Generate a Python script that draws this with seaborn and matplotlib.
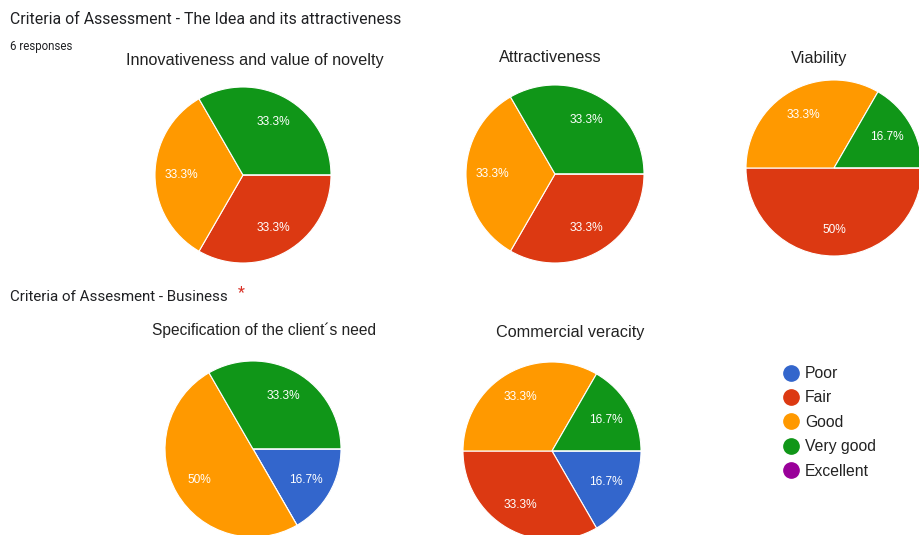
import matplotlib
matplotlib.use("Agg")
import matplotlib.pyplot as plt
import seaborn as sns
from matplotlib.lines import Line2D

# ---- data ----
categories = ["Poor", "Fair", "Good", "Very good", "Excellent"]
palette_hex = ["#3366cc", "#dc3912", "#ff9900", "#109618", "#990099"]

innovativeness = [0, 2, 2, 2, 0]
attractiveness = [0, 2, 2, 2, 0]
viability = [0, 3, 2, 1, 0]
specification = [1, 0, 3, 2, 0]
commercial = [1, 2, 2, 1, 0]

titles = ["Innovativeness and value of novelty", "Attractiveness", "Viability",
          "Specification of the client\u00b4s need", "Commercial veracity"]
header1 = "Criteria of Assessment - The Idea and its attractiveness"
subheader1 = "6 responses"
header2 = "Criteria of Assesment - Business"

sns.set_theme(style="white")
plt.rcParams['font.family'] = ['Liberation Sans', 'DejaVu Sans']
colors = sns.color_palette(palette_hex)

W, H = 919, 535
fig = plt.figure(figsize=(W / 100, H / 100), dpi=100)
fig.patch.set_facecolor("white")


def fmt(p):
    if p < 0.05:
        return ""
    s = f"{p:.1f}"
    if s.endswith(".0"):
        s = s[:-2]
    return s + "%"


# (center x, center y from top, radius) in pixels; title position
layout = [
    (243, 175, 88, 255, 60),
    (555, 174, 89, 550, 58),
    (834, 168, 88, 819, 58),
    (253, 449, 88, 264, 330),
    (552, 451, 89, 570, 332),
]
title_sizes = [11.7, 11.7, 11.7, 11.2, 11.7]
datasets = [innovativeness, attractiveness, viability, specification, commercial]

for vals, (cx, cy, r, tx, ty), title, ts in zip(datasets, layout, titles, title_sizes):
    ax = fig.add_axes([(cx - r) / W, (H - cy - r) / H, 2 * r / W, 2 * r / H])
    ax.pie(vals, colors=colors, counterclock=False, startangle=0,
           autopct=fmt, pctdistance=0.7,
           wedgeprops=dict(edgecolor="white", linewidth=0.8),
           textprops=dict(color="white", fontsize=8.6))
    ax.set_xlim(-1, 1)
    ax.set_ylim(-1, 1)
    ax.set_aspect("equal")
    ax.axis("off")
    fig.text(tx / W, 1 - ty / H, title, ha="center", va="center",
             fontsize=ts, color="#222222")

fig.text(10 / W, 1 - 20 / H, header1, ha="left", va="center", fontsize=11.4,
         color="#202124", family=["Roboto", "DejaVu Sans"])
fig.text(10 / W, 1 - 47 / H, subheader1, ha="left", va="center", fontsize=8.3,
         color="#202124", family=["Roboto", "DejaVu Sans"])
fig.text(10 / W, 1 - 297 / H, header2, ha="left", va="center", fontsize=10.9,
         color="#202124", family=["Roboto", "DejaVu Sans"])
fig.text(238 / W, 1 - 293 / H, "*", ha="left", va="center", fontsize=11.5,
         color="#d93025", family=["Roboto", "DejaVu Sans"])

handles = [Line2D([], [], marker="o", linestyle="", markersize=11,
                  markerfacecolor=c, markeredgecolor=c) for c in colors]
fig.legend(handles, categories, loc="upper left",
           bbox_to_anchor=(782 / W, 1 - 366 / H), frameon=False,
           fontsize=11.3, labelspacing=0.6, handletextpad=0.25,
           handlelength=1.2, borderaxespad=0, borderpad=0,
           labelcolor="#222222")

fig.savefig("out.png", dpi=100, facecolor="white")
